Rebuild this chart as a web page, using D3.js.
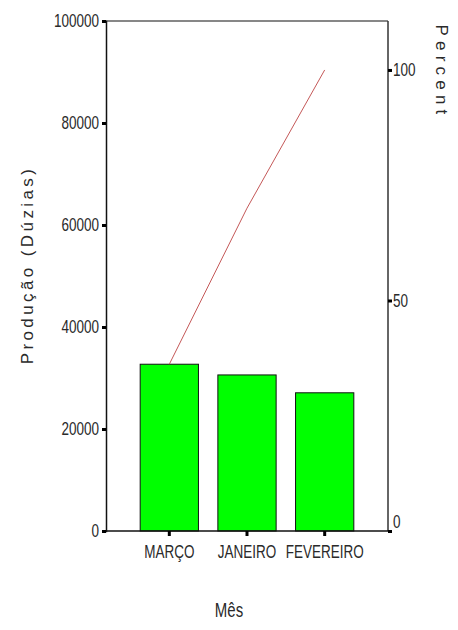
<!DOCTYPE html>
<html>
<head>
<meta charset="utf-8">
<script src="https://cdn.jsdelivr.net/npm/d3@7"></script>
<style>
  body { margin: 0; background: #fff; }
  svg text { font-family: "Liberation Sans", Arial, sans-serif; fill: #2a2a2a; }
</style>
</head>
<body>
<svg width="458" height="630"></svg>
<script>
// data
const months = ["MARÇO", "JANEIRO", "FEVEREIRO"];
const producao = [32700, 30600, 27100];
const leftTicks = [0, 20000, 40000, 60000, 80000, 100000];
const rightTicks = [0, 50, 100];

const svg = d3.select("svg");
const plotL = 106, plotR = 388, plotT = 21, plotB = 531;
const stretch = 1.4;

const total = d3.sum(producao);
let run = 0;
const cumPct = producao.map(v => { run += v; return run / total * 100; });

const x = d3.scaleBand()
    .domain(months)
    .range([plotL, plotR])
    .paddingInner(0.25)
    .paddingOuter(0.44);

const y = d3.scaleLinear()
    .domain([0, 100000])
    .range([plotB, plotT]);

const yPct = d3.scaleLinear()
    .domain([0, 100000 / total * 100])
    .range([plotB, plotT]);

// bars
svg.append("g").selectAll("rect")
    .data(producao)
    .enter()
    .append("rect")
    .attr("x", (d, i) => x(months[i]))
    .attr("y", d => y(d))
    .attr("width", x.bandwidth())
    .attr("height", d => plotB - y(d))
    .attr("fill", "#00ff00")
    .attr("stroke", "#111")
    .attr("stroke-width", 1);

// frame top
svg.append("line")
    .attr("x1", plotL).attr("x2", plotR)
    .attr("y1", plotT).attr("y2", plotT)
    .attr("stroke", "#111").attr("stroke-width", 1.2);

// cumulative line
const line = d3.line()
    .x((d, i) => x(months[i]) + x.bandwidth() / 2)
    .y(d => yPct(d));
svg.append("path")
    .datum(cumPct)
    .attr("d", line)
    .attr("fill", "none")
    .attr("stroke", "#c45858")
    .attr("stroke-width", 1);

function styleAxis(g) {
  g.select(".domain").attr("stroke", "#111").attr("stroke-width", 1.5);
  g.selectAll(".tick line").attr("stroke", "#000").attr("stroke-width", 3);
  g.selectAll(".tick text").attr("fill", "#2a2a2a");
}

// left axis
const gl = svg.append("g")
    .attr("transform", `translate(${plotL},0)`)
    .call(d3.axisLeft(y).tickValues(leftTicks).tickFormat(d3.format("d")).tickSizeOuter(0).tickSize(4).tickPadding(3));
styleAxis(gl);
gl.selectAll(".tick text")
    .attr("font-size", 13.5)
    .attr("transform", `scale(1,${stretch})`)
    .attr("dy", "0.3em");

// right axis
const gr = svg.append("g")
    .attr("transform", `translate(${plotR},0)`)
    .call(d3.axisRight(yPct).tickValues(rightTicks).tickSizeOuter(0).tickSize(4).tickPadding(1));
styleAxis(gr);
gr.select(".domain").attr("d", `M0,${plotT}V${plotB}`).attr("stroke", "#333");
gr.selectAll(".tick text")
    .attr("font-size", 13.5)
    .attr("transform", `scale(1,${stretch})`)
    .attr("dy", "0.3em");
gr.selectAll(".tick")
    .filter(d => d === 0)
    .select("text")
    .attr("dy", "-0.2em");

// bottom axis
const gb = svg.append("g")
    .attr("transform", `translate(0,${plotB})`)
    .call(d3.axisBottom(x).tickSizeOuter(0).tickSize(5).tickPadding(4));
styleAxis(gb);
gb.select(".domain").attr("d", `M${plotL},0H${plotR}`);
gb.selectAll(".tick text")
    .attr("font-size", 13.5)
    .attr("y", 9.5)
    .attr("transform", `scale(1,${stretch})`);

// axis titles
svg.append("text")
    .attr("transform", "translate(33,265) rotate(-90)")
    .attr("text-anchor", "middle")
    .attr("font-size", 17)
    .attr("letter-spacing", 3.4)
    .text("Produção  (Dúzias)");

svg.append("text")
    .attr("transform", "translate(436,72) rotate(90)")
    .attr("text-anchor", "middle")
    .attr("font-size", 17)
    .attr("letter-spacing", 5.2)
    .text("Percent");

svg.append("text")
    .attr("transform", `translate(229,617) scale(1,1.3)`)
    .attr("text-anchor", "middle")
    .attr("font-size", 15)
    .text("Mês");
</script>
</body>
</html>
